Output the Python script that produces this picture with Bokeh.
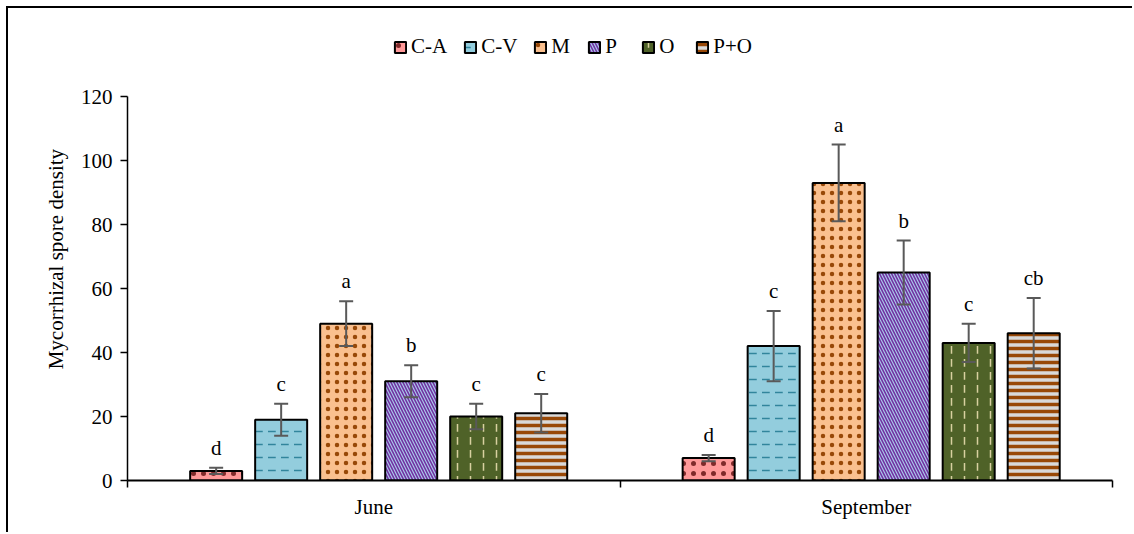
from bokeh.plotting import figure
from bokeh.models import (ColumnDataSource, Whisker, Legend, LegendItem, FixedTicker,
                          Range1d)
from bokeh.core.properties import value
from bokeh.embed import file_html
from bokeh.resources import INLINE

months = ["June", "September"]
treatments = ["C-A", "C-V", "M", "P", "O", "P+O"]
june_vals = [3, 19, 49, 31, 20, 21]
june_err = [1, 5, 7, 5, 4, 6]
june_letters = ["d", "c", "a", "b", "c", "c"]
sept_vals = [7, 42, 93, 65, 43, 46]
sept_err = [1, 11, 12, 10, 6, 11]
sept_letters = ["d", "c", "a", "b", "c", "cb"]
y_ticks = [0, 20, 40, 60, 80, 100, 120]

fills = ["#FF9999", "#93CDDD", "#FAC08F", "#7030A0", "#4F6228", "#D9D9D9"]
hatches = ["dot", "horizontal_dash", "dot", "left_diagonal_line", "vertical_dash", "horizontal_line"]
hatch_colors = ["#7F2A2A", "#31859C", "#984807", "#A9C6EA", "#D8D0A0", "#984807"]
hatch_scales = [10, 13, 9, 6, 13, 7]
hatch_weights = [1.5, 1.5, 1, 1.2, 1.5, 3.5]

FONT = "Liberation Serif"

p = figure(width=1126, height=526, output_backend="svg", toolbar_location=None,
           x_range=Range1d(0, 2), y_range=Range1d(0, 140),
           min_border_left=119, min_border_right=22, min_border_top=24, min_border_bottom=54)
p.styles = {"margin-left": "6px", "margin-top": "6px",
            "border-left": "2px solid #000", "border-top": "2px solid #000"}
p.outline_line_color = None
p.xgrid.visible = False
p.ygrid.visible = False

step = 0.132
bw = 0.1056
legend_items = []
vals_by_month = [june_vals, sept_vals]
err_by_month = [june_err, sept_err]
letters_by_month = [june_letters, sept_letters]
for j, t in enumerate(treatments):
    xs, tops, lows, highs, labs = [], [], [], [], []
    for m in range(len(months)):
        xs.append(m + 0.5 + (j - 2.5) * step + 0.01)
        v = vals_by_month[m][j]
        e = err_by_month[m][j]
        tops.append(v)
        lows.append(v - e)
        highs.append(v + e)
        labs.append(letters_by_month[m][j])
    src = ColumnDataSource(dict(x=xs, top=tops, lower=lows, upper=highs, lab=labs))
    r = p.vbar(x="x", top="top", width=bw, source=src, fill_color=fills[j],
               line_color="black", line_width=2,
               hatch_pattern=hatches[j], hatch_color=hatch_colors[j],
               hatch_scale=hatch_scales[j], hatch_weight=hatch_weights[j])
    legend_items.append(LegendItem(label=t, renderers=[r]))
    w = Whisker(base="x", lower="lower", upper="upper", source=src, level="overlay",
                line_color="#595959", line_width=2)
    for h in (w.upper_head, w.lower_head):
        h.size = 14
        h.line_color = "#595959"
        h.line_width = 2
    p.add_layout(w)
    p.text(x="x", y="upper", text="lab", source=src, text_align="center",
           text_baseline="bottom", y_offset=-8, text_font=value(FONT),
           text_font_size="21px", text_color="#000000")

legend = Legend(items=legend_items, orientation="horizontal", location=(266, 421),
                label_text_font=FONT, label_text_font_size="21px",
                label_text_color="black",
                label_height=22, glyph_width=14, glyph_height=14, spacing=16,
                label_standoff=4, padding=4, margin=0,
                border_line_color=None, background_fill_alpha=0)
p.add_layout(legend, "center")

p.xaxis.ticker = FixedTicker(ticks=[0.5, 1.5], minor_ticks=[0, 1, 2])
p.xaxis.major_label_overrides = {0.5: months[0], 1.5: months[1]}
p.xaxis.major_tick_out = 0
p.xaxis.major_tick_in = 0
p.xaxis.minor_tick_out = 7
p.xaxis.minor_tick_in = 0
p.xaxis.minor_tick_line_color = "black"
p.xaxis.minor_tick_line_width = 1.5
p.xaxis.axis_line_width = 2
p.xaxis.major_label_text_font = FONT
p.xaxis.major_label_text_font_size = "21px"
p.xaxis.major_label_text_color = "black"
p.xaxis.major_label_standoff = 7

p.yaxis.ticker = FixedTicker(ticks=y_ticks)
p.yaxis.bounds = (y_ticks[0], y_ticks[-1])
p.yaxis.minor_tick_line_color = None
p.yaxis.major_tick_out = 7
p.yaxis.major_tick_in = 0
p.yaxis.major_tick_line_width = 1.5
p.yaxis.axis_line_width = 1.5
p.yaxis.major_label_text_font = FONT
p.yaxis.major_label_text_font_size = "21px"
p.yaxis.major_label_text_color = "black"
p.yaxis.major_label_standoff = 8
p.yaxis.axis_label = "Mycorrhizal  spore density"
p.yaxis.axis_label_text_font = FONT
p.yaxis.axis_label_text_font_size = "21px"
p.yaxis.axis_label_text_font_style = "normal"
p.yaxis.axis_label_text_color = "black"
p.yaxis.axis_label_standoff = 10

open("out.html", "w").write(file_html(p, INLINE))
